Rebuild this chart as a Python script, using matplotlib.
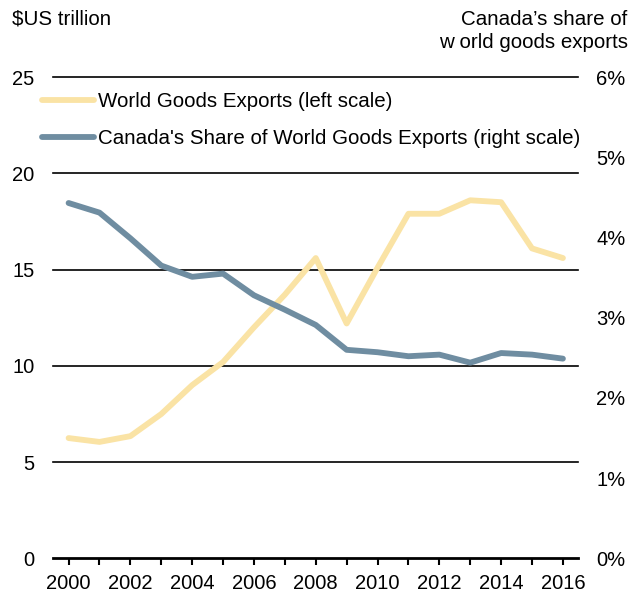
import matplotlib
matplotlib.use("Agg")
import matplotlib.pyplot as plt

plt.rcParams['font.family'] = ['Liberation Sans', 'DejaVu Sans']

years = [2000, 2001, 2002, 2003, 2004, 2005, 2006, 2007, 2008,
         2009, 2010, 2011, 2012, 2013, 2014, 2015, 2016]
world_exports = [6.25, 6.05, 6.35, 7.5, 9.0, 10.2, 12.0, 13.7, 15.6,
                 12.2, 15.1, 17.9, 17.9, 18.6, 18.5, 16.1, 15.6]
canada_share = [4.43, 4.31, 3.99, 3.65, 3.51, 3.55, 3.28, 3.10, 2.91,
                2.60, 2.57, 2.52, 2.54, 2.44, 2.56, 2.54, 2.49]

left_ticks = [0, 5, 10, 15, 20, 25]
right_ticks = [0, 1, 2, 3, 4, 5, 6]
right_labels = ['0%', '1%', '2%', '3%', '4%', '5%', '6%']
xtick_years = [2000, 2002, 2004, 2006, 2008, 2010, 2012, 2014, 2016]

yellow = '#FAE3A5'
blue = '#6F8DA1'
fs = 14.5
fs_txt = 14.8

fig = plt.figure(figsize=(6.29, 5.95), dpi=100)
ax = fig.add_axes([0.0845, 0.0615, 0.835, 0.809])
ax2 = ax.twinx()

ax.set_xlim(1999.5, 2016.5)
ax.set_ylim(0, 25)
ax2.set_ylim(0, 6)

for t in left_ticks[1:]:
    ax.axhline(t, color='black', lw=1.2, zorder=1, clip_on=False)

l1, = ax.plot(years, world_exports, color=yellow, lw=4.2, solid_capstyle='round',
              label='World Goods Exports (left scale)', zorder=3)
l2, = ax2.plot(years, canada_share, color=blue, lw=4.2, solid_capstyle='round',
               label="Canada's Share of World Goods Exports (right scale)", zorder=3)

for a in (ax, ax2):
    for s in ['top', 'left', 'right']:
        a.spines[s].set_visible(False)
ax2.spines['bottom'].set_visible(False)
ax.spines['bottom'].set_linewidth(2)
ax.spines['bottom'].set_color('black')

ax.set_yticks(left_ticks)
ax.set_yticklabels([str(t) for t in left_ticks], fontsize=fs)
ax.tick_params(axis='y', length=0, pad=13.5)
ax2.set_yticks(right_ticks)
ax2.set_yticklabels(right_labels, fontsize=fs)
ax2.tick_params(axis='y', length=0, pad=13)

ax.set_xticks(years, minor=False)
ax.set_xticklabels([str(y) if y in xtick_years else '' for y in years], fontsize=fs)
ax.tick_params(axis='x', length=5, width=1.5, direction='out', pad=6)

fig.text(0.019, 0.968, '$US trillion', fontsize=fs_txt, ha='left', va='center')
fig.text(0.998, 0.968, "Canada\u2019s share of", fontsize=fs_txt, ha='right', va='center')
fig.text(0.998, 0.928, "w orld goods exports", fontsize=fs_txt, ha='right', va='center')

leg = ax.legend(handles=[l1, l2], loc='upper left', bbox_to_anchor=(-0.037, 0.985),
                frameon=False, fontsize=fs_txt, handlelength=2.55, handletextpad=0.2,
                labelspacing=0.85, borderaxespad=0)

fig.savefig('out.png', dpi=100)
